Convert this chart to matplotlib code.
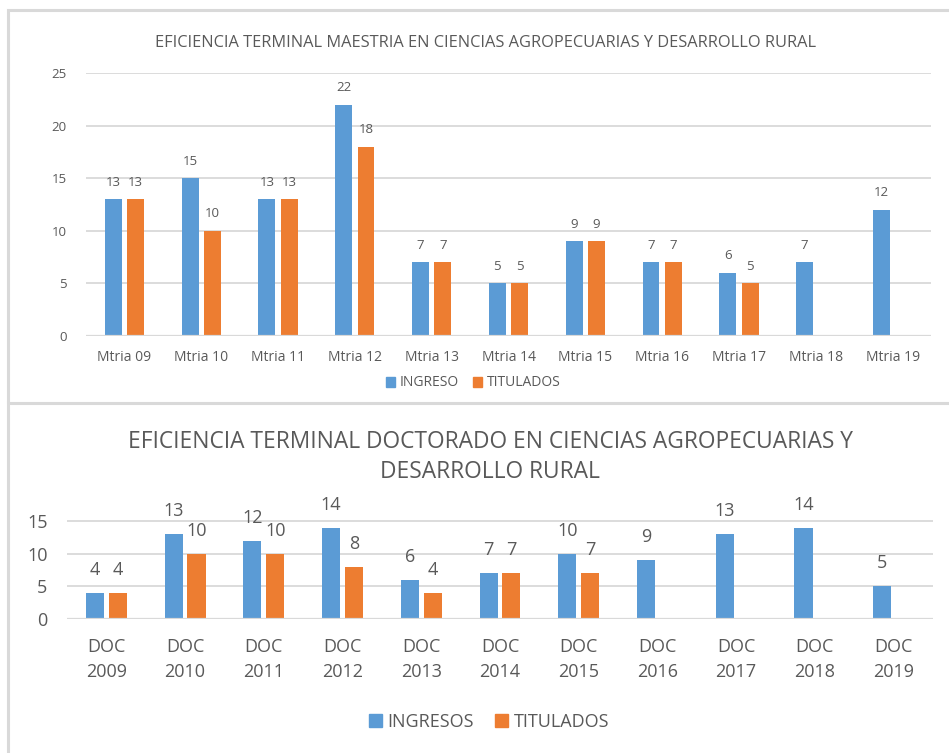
import matplotlib
matplotlib.use("Agg")
import matplotlib.pyplot as plt
from matplotlib.patches import Rectangle, Patch
from matplotlib.lines import Line2D

plt.rcParams['font.family'] = ['Open Sans', 'DejaVu Sans']

# data - maestria
mtria_labels = ["Mtria 09", "Mtria 10", "Mtria 11", "Mtria 12", "Mtria 13", "Mtria 14",
                "Mtria 15", "Mtria 16", "Mtria 17", "Mtria 18", "Mtria 19"]
mtria_ingreso = [13, 15, 13, 22, 7, 5, 9, 7, 6, 7, 12]
mtria_titulados = [13, 10, 13, 18, 7, 5, 9, 7, 5, None, None]

# data - doctorado
doc_labels = ["DOC\n2009", "DOC\n2010", "DOC\n2011", "DOC\n2012", "DOC\n2013", "DOC\n2014",
              "DOC\n2015", "DOC\n2016", "DOC\n2017", "DOC\n2018", "DOC\n2019"]
doc_ingresos = [4, 13, 12, 14, 6, 7, 10, 9, 13, 14, 5]
doc_titulados = [4, 10, 10, 8, 4, 7, 7, None, None, None, None]

BLUE = "#5B9BD5"
ORANGE = "#ED7D31"
GRID = "#D9D9D9"
TXT = "#595959"

W, H = 949, 753
fig = plt.figure(figsize=(W / 100, H / 100), dpi=100)


def px(x0, y0, x1, y1):
    # pixel box (top-left origin) -> figure fraction rect
    return [x0 / W, 1 - y1 / H, (x1 - x0) / W, (y1 - y0) / H]


# chart borders
fig.add_artist(Rectangle((8 / W, 1 - 402.5 / H), (W + 5) / W, (402.5 - 9.5) / H,
                         transform=fig.transFigure, fill=False, ec=GRID, lw=2.2))
fig.add_artist(Line2D([8 / W, 8 / W], [0, 1 - 403 / H], transform=fig.transFigure,
                      color=GRID, lw=2.2))


def draw_bars(ax, labels, s1, s2, width, off, lblsize, lblpad):
    for i in range(len(labels)):
        for val, sign, col in ((s1[i], -1, BLUE), (s2[i], 1, ORANGE)):
            if val is None:
                continue
            ax.bar(i + sign * off, val, width, color=col, zorder=3)
            ax.annotate(str(val), (i + sign * off, val), xytext=(0, lblpad),
                        textcoords="offset points", ha="center", va="bottom",
                        fontsize=lblsize, color=TXT, annotation_clip=False)
    ax.set_xlim(-0.5, len(labels) - 0.5)
    ax.set_xticks(range(len(labels)))
    ax.set_xticklabels(labels)
    for s in ax.spines.values():
        s.set_visible(False)
    ax.grid(axis="y", color=GRID, lw=1.3, zorder=0)
    ax.axhline(0, color=GRID, lw=1.6, zorder=4)
    ax.tick_params(length=0, colors=TXT)


# top chart
ax1 = fig.add_axes(px(86, 73, 931, 336))
draw_bars(ax1, mtria_labels, mtria_ingreso, mtria_titulados, 0.22, 0.145, 9.5, 7.5)
ax1.set_ylim(0, 25)
ax1.set_yticks([0, 5, 10, 15, 20, 25])
ax1.tick_params(axis="y", labelsize=9.5, pad=14)
ax1.tick_params(axis="x", labelsize=10, pad=10)
fig.text(486 / W, 1 - 43 / H, "EFICIENCIA TERMINAL MAESTRIA EN CIENCIAS AGROPECUARIAS Y DESARROLLO RURAL",
         ha="center", va="center", fontsize=11.8, color=TXT)
fig.legend(handles=[Patch(color=BLUE, label="INGRESO"), Patch(color=ORANGE, label="TITULADOS")],
           loc="center", bbox_to_anchor=(473 / W, 1 - 383 / H), ncol=2, frameon=False,
           fontsize=10, labelcolor=TXT, handlelength=0.7, handleheight=0.7,
           handletextpad=0.3, columnspacing=1.0)

# bottom chart
ax2 = fig.add_axes(px(67, 514.5, 933, 619))
draw_bars(ax2, doc_labels, doc_ingresos, doc_titulados, 0.23, 0.145, 13, 10)
ax2.set_ylim(0, 16)
ax2.set_yticks([0, 5, 10, 15])
ax2.tick_params(axis="y", labelsize=13, pad=14)
ax2.tick_params(axis="x", labelsize=13, pad=14)
for t in ax2.get_xticklabels():
    t.set_linespacing(1.45)
fig.text(490 / W, 1 - 457 / H, "EFICIENCIA TERMINAL DOCTORADO EN CIENCIAS AGROPECUARIAS Y\nDESARROLLO RURAL",
         ha="center", va="center", fontsize=16.4, color=TXT, linespacing=1.35)
fig.legend(handles=[Patch(color=BLUE, label="INGRESOS"), Patch(color=ORANGE, label="TITULADOS")],
           loc="center", bbox_to_anchor=(489 / W, 1 - 722 / H), ncol=2, frameon=False,
           fontsize=13, labelcolor=TXT, handlelength=0.7, handleheight=0.7,
           handletextpad=0.3, columnspacing=1.2)

fig.savefig("out.png", dpi=100)
